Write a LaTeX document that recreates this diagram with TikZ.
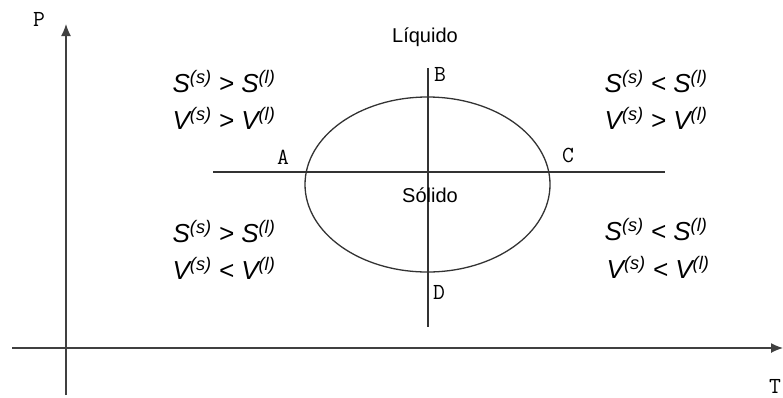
\documentclass[tikz,border=0pt]{standalone}
\usepackage{fontspec}
\setmainfont{Liberation Sans}
\setmonofont{Latin Modern Mono}
\usetikzlibrary{shapes.geometric,arrows.meta}
\begin{document}
\begin{tikzpicture}[x=1pt,y=-1pt,
    line width=1.3pt,
    eje/.style={draw=black!75,-{Latex[length=12pt,width=10pt]}},
    recta/.style={draw=black!80},
    letra/.style={font=\ttfamily\fontsize{23}{23}\selectfont},
    fase/.style={font=\fontsize{20}{22}\selectfont},
    cond/.style={font=\itshape\fontsize{26}{28}\selectfont,align=center}]

\useasboundingbox (0,0) rectangle (783,397);

% ===== Ejes =====
\coordinate (o1) at (66,395);
\coordinate (p1) at (66,24);
\coordinate (o2) at (12,348);
\coordinate (t1) at (783,348);
\draw[eje] (o1) -- (p1);
\draw[eje] (o2) -- (t1);
\node[letra] (ejeP) at (39,19) {P};
\node[letra] (ejeT) at (775,386) {T};

% ===== Rectas y elipse =====
\coordinate (izq) at (213,172);
\coordinate (der) at (665,172);
\coordinate (arr) at (428,68);
\coordinate (aba) at (428,327);
\draw[recta] (izq) -- (der);
\draw[recta] (arr) -- (aba);
\node[draw=black!80,ellipse,minimum width=245pt,minimum height=175pt,inner sep=0pt] (sol) at (427.5,184.5) {};

% ===== Puntos =====
\node[letra] (A) at (283,157) {A};
\node[letra] (B) at (440,74) {B};
\node[letra] (C) at (568,155) {C};
\node[letra] (D) at (439,292) {D};

% ===== Fases =====
\node[fase] (liq) at (425,37) {Líquido};
\node[fase] (sold) at (430,195) {Sólido};

% ===== Condiciones =====
\node[cond] (c1) at (224,82) {S\textsuperscript{(s)} > S\textsuperscript{(l)}};
\node[cond] (c2) at (224,118) {V\textsuperscript{(s)} > V\textsuperscript{(l)}};
\node[cond] (c3) at (656,82) {S\textsuperscript{(s)} < S\textsuperscript{(l)}};
\node[cond] (c4) at (656,118) {V\textsuperscript{(s)} > V\textsuperscript{(l)}};
\node[cond] (c5) at (224,232) {S\textsuperscript{(s)} > S\textsuperscript{(l)}};
\node[cond] (c6) at (224,268) {V\textsuperscript{(s)} < V\textsuperscript{(l)}};
\node[cond] (c7) at (656,230) {S\textsuperscript{(s)} < S\textsuperscript{(l)}};
\node[cond] (c8) at (658,267) {V\textsuperscript{(s)} < V\textsuperscript{(l)}};

\end{tikzpicture}
\end{document}
